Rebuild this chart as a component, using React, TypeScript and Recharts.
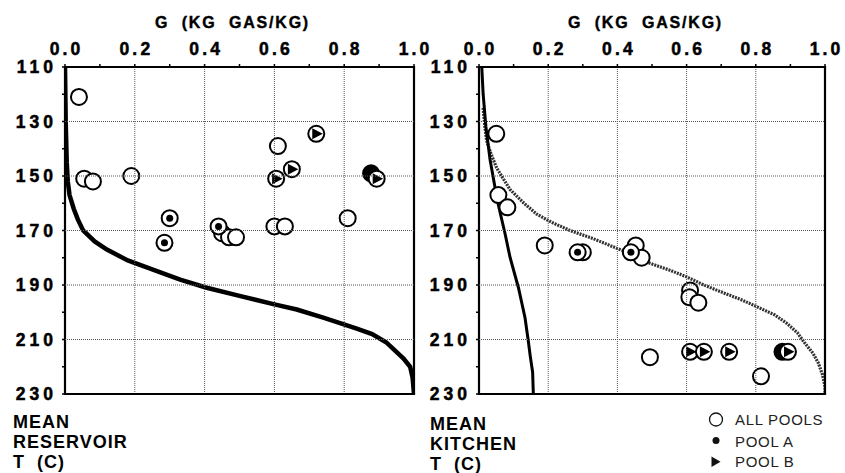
import React from 'react';
import { ScatterChart, Scatter, XAxis, YAxis } from 'recharts';

const FONT = '"Liberation Sans", Arial, Helvetica, sans-serif';

// Axis ticks
const gTicks = [0, 0.1, 0.2, 0.3, 0.4, 0.5, 0.6, 0.7, 0.8, 0.9, 1.0];
const tTicks = [110, 120, 130, 140, 150, 160, 170, 180, 190, 200, 210, 220, 230];
const gRange = [0, 1];
const tRange = [110, 230];

// Reservoir panel: measured points (g = kg gas/kg, t = mean reservoir T)
const resAllPools = [
  { g: 0.04, t: 121 },
  { g: 0.055, t: 151 },
  { g: 0.08, t: 152 },
  { g: 0.19, t: 150 },
  { g: 0.61, t: 139 },
  { g: 0.45, t: 171 },
  { g: 0.47, t: 172.5 },
  { g: 0.49, t: 172.5 },
  { g: 0.6, t: 168.5 },
  { g: 0.63, t: 168.5 },
  { g: 0.81, t: 165.5 },
];
const resPoolA = [
  { g: 0.3, t: 165.5 },
  { g: 0.285, t: 174.5 },
  { g: 0.44, t: 168.5 },
];
const resPoolAB = [{ g: 0.877, t: 149 }];
const resPoolB = [
  { g: 0.72, t: 134.5 },
  { g: 0.65, t: 147.5 },
  { g: 0.605, t: 151 },
  { g: 0.893, t: 151 },
];
// Reservoir model curve
const resCurve = [
  { g: 0.0, t: 110 },
  { g: 0.002, t: 130 },
  { g: 0.005, t: 145 },
  { g: 0.008, t: 152 },
  { g: 0.013, t: 157 },
  { g: 0.025, t: 162 },
  { g: 0.037, t: 166 },
  { g: 0.052, t: 170 },
  { g: 0.085, t: 174 },
  { g: 0.12, t: 177 },
  { g: 0.18, t: 181 },
  { g: 0.244, t: 184 },
  { g: 0.33, t: 188 },
  { g: 0.406, t: 191 },
  { g: 0.5, t: 194 },
  { g: 0.597, t: 197 },
  { g: 0.664, t: 199 },
  { g: 0.74, t: 202 },
  { g: 0.836, t: 206 },
  { g: 0.88, t: 208 },
  { g: 0.92, t: 211 },
  { g: 0.945, t: 214 },
  { g: 0.97, t: 217 },
  { g: 0.989, t: 220 },
  { g: 0.996, t: 224 },
  { g: 1.0, t: 230 },
];

// Kitchen panel: measured points (g = kg gas/kg, t = mean kitchen T)
const kitAllPools = [
  { g: 0.05, t: 134.5 },
  { g: 0.056, t: 157 },
  { g: 0.082, t: 161.5 },
  { g: 0.19, t: 175.5 },
  { g: 0.3, t: 178 },
  { g: 0.453, t: 175.5 },
  { g: 0.47, t: 180 },
  { g: 0.61, t: 192 },
  { g: 0.608, t: 194.5 },
  { g: 0.634, t: 196.5 },
  { g: 0.494, t: 216.5 },
  { g: 0.815, t: 223.5 },
];
const kitPoolA = [
  { g: 0.285, t: 178 },
  { g: 0.439, t: 178 },
];
const kitPoolAB = [{ g: 0.877, t: 214.5 }];
const kitPoolB = [
  { g: 0.61, t: 214.5 },
  { g: 0.65, t: 214.5 },
  { g: 0.723, t: 214.5 },
  { g: 0.893, t: 214.5 },
];
// Kitchen model curves
const kitSolid = [
  { g: 0.008, t: 110 },
  { g: 0.012, t: 120 },
  { g: 0.02, t: 132 },
  { g: 0.032, t: 144 },
  { g: 0.053, t: 159 },
  { g: 0.075, t: 171 },
  { g: 0.09, t: 180 },
  { g: 0.114, t: 191 },
  { g: 0.133, t: 202 },
  { g: 0.143, t: 211 },
  { g: 0.148, t: 216 },
  { g: 0.155, t: 222 },
  { g: 0.157, t: 230 },
];
const kitDotted = [
  { g: 0.012, t: 125 },
  { g: 0.017, t: 132 },
  { g: 0.022, t: 137 },
  { g: 0.035, t: 142 },
  { g: 0.051, t: 147 },
  { g: 0.07, t: 151 },
  { g: 0.09, t: 155 },
  { g: 0.13, t: 160 },
  { g: 0.167, t: 164 },
  { g: 0.21, t: 167 },
  { g: 0.263, t: 170 },
  { g: 0.33, t: 173 },
  { g: 0.398, t: 176.5 },
  { g: 0.45, t: 179 },
  { g: 0.494, t: 182 },
  { g: 0.55, t: 184.5 },
  { g: 0.6, t: 187 },
  { g: 0.65, t: 190 },
  { g: 0.697, t: 192.4 },
  { g: 0.76, t: 195.5 },
  { g: 0.812, t: 198.5 },
  { g: 0.855, t: 201 },
  { g: 0.889, t: 204 },
  { g: 0.92, t: 207.5 },
  { g: 0.942, t: 211.4 },
  { g: 0.965, t: 215 },
  { g: 0.981, t: 218.7 },
  { g: 0.993, t: 223 },
  { g: 1.0, t: 227.3 },
  { g: 1.0, t: 230 },
];

// Layout of each panel
const CHART_H = 473;
const M_TOP = 37;
const X_AXIS_H = 30;
const M_BOTTOM = 79;
const PLOT_TOP = M_TOP + X_AXIS_H;
const PLOT_BOTTOM = CHART_H - M_BOTTOM;
const TICK_SIZE = 3;
const X_TICK_MARGIN = 9;
const Y_TICK_MARGIN = 5;

const TICK_FS = 17.5;
const TICK_LS = 3.2;
const GRID_STROKE = '#555';
const GRID_DASH = '1 1';
const FRAME_W = 2.2;

// Top axis tick: label on major ticks, short mark above the frame, and the
// vertical grid / frame line through the plot
const makeXTick = () => (props: any) => {
  const { x, payload } = props;
  const v = payload.value as number;
  const major = Math.round(v * 10) % 2 === 0;
  const edge = v === gRange[0] || v === gRange[1];
  return (
    <g>
      <line x1={x} x2={x} y1={PLOT_TOP} y2={PLOT_TOP - TICK_SIZE} stroke="#000" strokeWidth={1.5} />
      {major && !edge && (
        <line
          x1={x}
          x2={x}
          y1={PLOT_TOP}
          y2={PLOT_BOTTOM}
          stroke={GRID_STROKE}
          strokeWidth={1}
          strokeDasharray={GRID_DASH}
        />
      )}
      {edge && (
        <line x1={x} x2={x} y1={PLOT_TOP} y2={PLOT_BOTTOM} stroke="#000" strokeWidth={FRAME_W} />
      )}
      {major && (
        <text
          x={x + TICK_LS / 2}
          y={PLOT_TOP - TICK_SIZE - X_TICK_MARGIN}
          textAnchor="middle"
          fontFamily={FONT}
          fontWeight="bold"
          fontSize={TICK_FS}
          letterSpacing={TICK_LS}
          fill="#000"
          stroke="#000"
          strokeWidth={0.5}
        >
          {v.toFixed(1)}
        </text>
      )}
    </g>
  );
};

// Left axis tick: label on major ticks, short mark, and horizontal grid / frame line
const makeYTick = (left: number, right: number) => (props: any) => {
  const { y, payload } = props;
  const v = payload.value as number;
  const major = (v - tRange[0]) % 20 === 0;
  const edge = v === tRange[0] || v === tRange[1];
  return (
    <g>
      <line x1={left} x2={left - TICK_SIZE} y1={y} y2={y} stroke="#000" strokeWidth={1.5} />
      {major && !edge && (
        <line
          x1={left}
          x2={right}
          y1={y}
          y2={y}
          stroke={GRID_STROKE}
          strokeWidth={1}
          strokeDasharray={GRID_DASH}
        />
      )}
      {edge && (
        <line
          x1={left - FRAME_W / 2}
          x2={right + FRAME_W / 2}
          y1={y}
          y2={y}
          stroke="#000"
          strokeWidth={FRAME_W}
        />
      )}
      {major && (
        <text
          x={left - TICK_SIZE - Y_TICK_MARGIN}
          y={y}
          dy="0.36em"
          textAnchor="end"
          fontFamily={FONT}
          fontWeight="bold"
          fontSize={TICK_FS}
          letterSpacing={TICK_LS + 0.8}
          fill="#000"
          stroke="#000"
          strokeWidth={0.5}
        >
          {v}
        </text>
      )}
    </g>
  );
};

const R = 8;

const OpenMark = (p: any) => (
  <circle cx={p.cx} cy={p.cy} r={R} fill="#fff" stroke="#000" strokeWidth={2} />
);
const PoolAMark = (p: any) => (
  <g>
    <circle cx={p.cx} cy={p.cy} r={R} fill="#fff" stroke="#000" strokeWidth={2} />
    <circle cx={p.cx} cy={p.cy} r={3.5} fill="#000" />
  </g>
);
const PoolABMark = (p: any) => (
  <circle cx={p.cx} cy={p.cy} r={R} fill="#000" stroke="#000" strokeWidth={2} />
);
const PoolBMark = (p: any) => (
  <g>
    <circle cx={p.cx} cy={p.cy} r={R} fill="#fff" stroke="#000" strokeWidth={2} />
    <polygon
      points={`${p.cx - 4},${p.cy - 5.5} ${p.cx + 6.5},${p.cy} ${p.cx - 4},${p.cy + 5.5}`}
      fill="#000"
    />
  </g>
);
const NoMark = () => <g />;

type Pt = { g: number; t: number };

interface PanelProps {
  width: number;
  yAxisWidth: number;
  marginRight: number;
  curves: { data: Pt[]; stroke: string; width: number; dash?: string }[];
  allPools: Pt[];
  poolA: Pt[];
  poolB: Pt[];
  poolAB?: Pt[];
}

const Panel = ({ width, yAxisWidth, marginRight, curves, allPools, poolA, poolB, poolAB }: PanelProps) => {
  const XTick = makeXTick();
  const YTick = makeYTick(yAxisWidth, width - marginRight);
  return (
    <ScatterChart
      width={width}
      height={CHART_H}
      margin={{ top: M_TOP, right: marginRight, bottom: M_BOTTOM, left: 0 }}
    >
      <XAxis
        type="number"
        dataKey="g"
        orientation="top"
        domain={gRange}
        ticks={gTicks}
        allowDataOverflow
        height={X_AXIS_H}
        axisLine={false}
        tickLine={false}
        tickSize={TICK_SIZE}
        tickMargin={X_TICK_MARGIN}
        tick={<XTick />}
        interval={0}
      />
      <YAxis
        type="number"
        dataKey="t"
        domain={tRange}
        reversed
        ticks={tTicks}
        allowDataOverflow
        width={yAxisWidth}
        axisLine={false}
        tickLine={false}
        tickSize={TICK_SIZE}
        tickMargin={Y_TICK_MARGIN}
        tick={<YTick />}
        interval={0}
      />
      {curves.map((c, i) => (
        <Scatter
          key={`curve${i}`}
          data={c.data}
          line={{ stroke: c.stroke, strokeWidth: c.width, strokeDasharray: c.dash }}
          lineJointType="linear"
          shape={NoMark}
          isAnimationActive={false}
        />
      ))}
      <Scatter data={allPools} shape={OpenMark} isAnimationActive={false} />
      <Scatter data={poolA} shape={PoolAMark} isAnimationActive={false} />
      {poolAB && <Scatter data={poolAB} shape={PoolABMark} isAnimationActive={false} />}
      <Scatter data={poolB} shape={PoolBMark} isAnimationActive={false} />
    </ScatterChart>
  );
};

const textBold = {
  fontFamily: FONT,
  fontWeight: 'bold' as const,
  fill: '#000',
};

export default function App() {
  return (
    <div style={{ position: 'absolute', left: 0, top: 0, width: 845, height: 473, background: '#fff' }}>
      <div style={{ position: 'absolute', left: 0, top: 0 }}>
        <Panel
          width={440}
          yAxisWidth={65}
          marginRight={26}
          curves={[{ data: resCurve, stroke: '#000', width: 4.5 }]}
          allPools={resAllPools}
          poolA={resPoolA}
          poolB={resPoolB}
          poolAB={resPoolAB}
        />
      </div>
      <div style={{ position: 'absolute', left: 420, top: 0 }}>
        <Panel
          width={425}
          yAxisWidth={59}
          marginRight={20}
          curves={[
            { data: kitDotted, stroke: '#333', width: 3.2, dash: '2 1' },
            { data: kitSolid, stroke: '#000', width: 3 },
          ]}
          allPools={kitAllPools}
          poolA={kitPoolA}
          poolB={kitPoolB}
          poolAB={kitPoolAB}
        />
      </div>
      <svg
        width={845}
        height={473}
        style={{ position: 'absolute', left: 0, top: 0, pointerEvents: 'none' }}
      >
        <text x={155} y={28} fontSize={16} letterSpacing={1.8} stroke="#000" strokeWidth={0.4} style={{ whiteSpace: 'pre' }} {...textBold}>
          {'G  (KG  GAS/KG)'}
        </text>
        <text x={568} y={28} fontSize={16} letterSpacing={1.8} stroke="#000" strokeWidth={0.4} style={{ whiteSpace: 'pre' }} {...textBold}>
          {'G  (KG  GAS/KG)'}
        </text>

        <text x={13} y={428} fontSize={18} letterSpacing={1} {...textBold}>MEAN</text>
        <text x={13} y={448} fontSize={18} letterSpacing={1} {...textBold}>RESERVOIR</text>
        <text x={13} y={468} fontSize={18} letterSpacing={1} style={{ whiteSpace: 'pre' }} {...textBold}>{'T  (C)'}</text>

        <text x={430} y={430} fontSize={18} letterSpacing={1} {...textBold}>MEAN</text>
        <text x={430} y={450} fontSize={18} letterSpacing={1} {...textBold}>KITCHEN</text>
        <text x={430} y={470} fontSize={18} letterSpacing={1} style={{ whiteSpace: 'pre' }} {...textBold}>{'T  (C)'}</text>

        <circle cx={716} cy={419.5} r={6.5} fill="#fff" stroke="#111" strokeWidth={1.3} />
        <circle cx={716} cy={440.5} r={3.5} fill="#111" />
        <polygon points="711.5,456.5 720.5,461.7 711.5,466.9" fill="#111" />
        <text x={735} y={425} fontFamily={FONT} fontSize={15} letterSpacing={0.7} fill="#222">ALL POOLS</text>
        <text x={735} y={446.5} fontFamily={FONT} fontSize={15} letterSpacing={0.7} fill="#222">POOL A</text>
        <text x={735} y={467} fontFamily={FONT} fontSize={15} letterSpacing={0.7} fill="#222">POOL B</text>
      </svg>
    </div>
  );
}
